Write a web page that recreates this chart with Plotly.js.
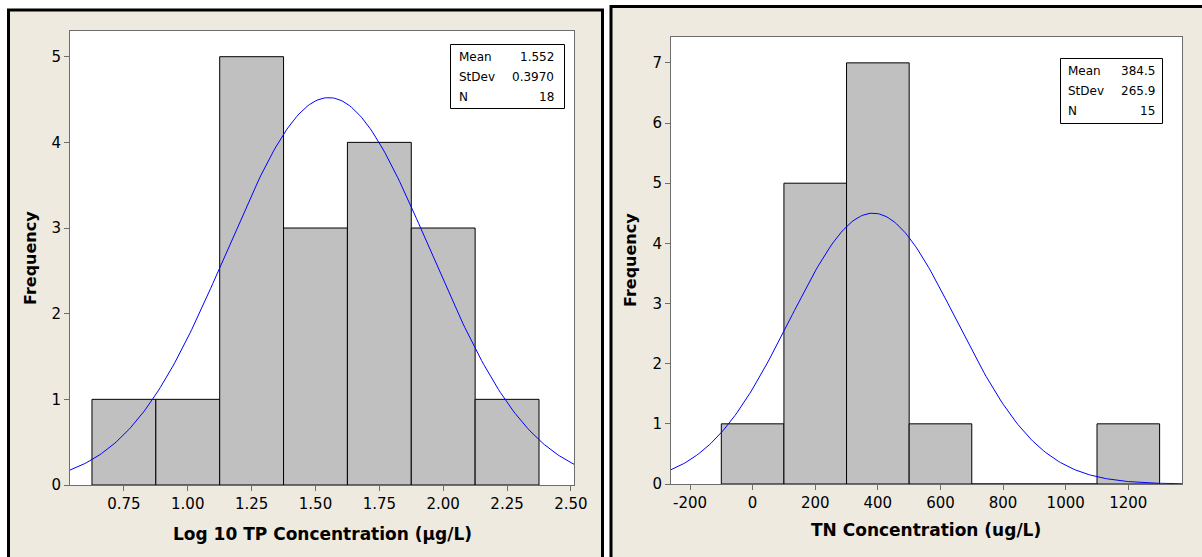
<!DOCTYPE html>
<html><head><meta charset="utf-8">
<script src="https://cdn.plot.ly/plotly-3.0.1.min.js"></script>
<style>html,body{margin:0;padding:0;background:#fff}#c{width:1202px;height:557px}</style>
</head><body><div id="c"></div>
<script>
// ---- Data: Log10 TP histogram ----
const tpBinCenters = [0.75, 1.00, 1.25, 1.50, 1.75, 2.00, 2.25];
const tpCounts = [1, 1, 5, 3, 4, 3, 1];
const tpBinWidth = 0.25;
const tpMean = 1.552, tpStDev = 0.3970, tpN = 18;
const tpTickVals = [0.75, 1.00, 1.25, 1.50, 1.75, 2.00, 2.25, 2.50];
const tpTickText = ["0.75", "1.00", "1.25", "1.50", "1.75", "2.00", "2.25", "2.50"];
const tpYTicks = [0, 1, 2, 3, 4, 5];
const tpStatLabels = ["Mean", "StDev", "N"];
const tpStatValues = ["1.552", "0.3970", "18"];

// ---- Data: TN histogram ----
const tnBinCenters = [0, 200, 400, 600, 800, 1000, 1200];
const tnCounts = [1, 5, 7, 1, 0, 0, 1];
const tnBinWidth = 200;
const tnMean = 384.5, tnStDev = 265.9, tnN = 15;
const tnTickVals = [-200, 0, 200, 400, 600, 800, 1000, 1200];
const tnTickText = ["-200", "0", "200", "400", "600", "800", "1000", "1200"];
const tnYTicks = [0, 1, 2, 3, 4, 5, 6, 7];
const tnStatLabels = ["Mean", "StDev", "N"];
const tnStatValues = ["384.5", "265.9", "15"];

const W = 1202, H = 557;
const px = x => x / W;
const py = y => 1 - y / H;

// fitted normal curve scaled to the histogram (N * binwidth * pdf)
function normalCurve(mean, sd, n, bw, lo, hi) {
  const xs = [], ys = [];
  const steps = 240;
  for (let i = 0; i <= steps; i++) {
    const x = lo + (hi - lo) * i / steps;
    xs.push(x);
    ys.push(n * bw * Math.exp(-0.5 * Math.pow((x - mean) / sd, 2)) / (sd * Math.sqrt(2 * Math.PI)));
  }
  return {xs, ys};
}

const tpRange = [0.539, 2.512];
const tnRange = [-260.7, 1371.5];
const tpCurve = normalCurve(tpMean, tpStDev, tpN, tpBinWidth, tpRange[0], tpRange[1]);
const tnCurve = normalCurve(tnMean, tnStDev, tnN, tnBinWidth, tnRange[0], tnRange[1]);

const barStyle = {color: '#C0C0C0', line: {color: '#000', width: 1}};
const data = [
  {type: 'bar', x: tpBinCenters, y: tpCounts, width: tpBinWidth, marker: barStyle, xaxis: 'x', yaxis: 'y', hoverinfo: 'x+y'},
  {type: 'scatter', mode: 'lines', x: tpCurve.xs, y: tpCurve.ys, line: {color: '#0000FF', width: 1}, xaxis: 'x', yaxis: 'y'},
  {type: 'bar', x: tnBinCenters, y: tnCounts, width: tnBinWidth, marker: barStyle, xaxis: 'x2', yaxis: 'y2'},
  {type: 'scatter', mode: 'lines', x: tnCurve.xs, y: tnCurve.ys, line: {color: '#0000FF', width: 1}, xaxis: 'x2', yaxis: 'y2'}
];

const tickFont = {family: 'DejaVu Sans', size: 15, color: '#000'};
const axBase = {
  showgrid: false, zeroline: false, showline: true, mirror: true,
  linecolor: '#6e6e6e', linewidth: 1, ticks: 'outside', ticklen: 5,
  tickcolor: '#6e6e6e', tickwidth: 1, tickfont: tickFont, fixedrange: true
};

const beige = '#EEEAE0';
const shapes = [
  {type: 'rect', xref: 'paper', yref: 'paper', x0: px(8.5), x1: px(602.5), y0: py(10), y1: py(575),
   fillcolor: beige, line: {color: '#000', width: 3}, layer: 'below'},
  {type: 'rect', xref: 'paper', yref: 'paper', x0: px(611), x1: px(1215), y0: py(6.5), y1: py(575),
   fillcolor: beige, line: {color: '#000', width: 3}, layer: 'below'},
  {type: 'rect', xref: 'x domain', yref: 'y domain', x0: 0, x1: 1, y0: 0, y1: 1,
   fillcolor: '#fff', line: {width: 0}, layer: 'below'},
  {type: 'rect', xref: 'x2 domain', yref: 'y2 domain', x0: 0, x1: 1, y0: 0, y1: 1,
   fillcolor: '#fff', line: {width: 0}, layer: 'below'},
  {type: 'rect', xref: 'paper', yref: 'paper', x0: px(450.5), x1: px(564.5), y0: py(44.5), y1: py(108.5),
   fillcolor: '#fff', line: {color: '#000', width: 1}, layer: 'above'},
  {type: 'rect', xref: 'paper', yref: 'paper', x0: px(1060.5), x1: px(1162.5), y0: py(58.5), y1: py(123.5),
   fillcolor: '#fff', line: {color: '#000', width: 1}, layer: 'above'}
];

const statFont = {family: 'DejaVu Sans', size: 12, color: '#000'};
const annotations = [];
function addStats(labels, values, xl, xr, yTop) {
  labels.forEach((lab, i) => {
    const y = yTop + 13 + i * 20;
    annotations.push({xref: 'paper', yref: 'paper', x: px(xl), y: py(y), text: lab, showarrow: false,
      xanchor: 'left', yanchor: 'middle', font: statFont});
    annotations.push({xref: 'paper', yref: 'paper', x: px(xr), y: py(y), text: values[i], showarrow: false,
      xanchor: 'right', yanchor: 'middle', font: statFont});
  });
}
addStats(tpStatLabels, tpStatValues, 457, 556, 44);
addStats(tnStatLabels, tnStatValues, 1066, 1157, 58);

const titleFont = {family: 'DejaVu Sans', size: 17, color: '#000'};
const freqFont = {family: 'DejaVu Sans', size: 16, color: '#000'};
annotations.push({xref: 'paper', yref: 'paper', x: px(322), y: py(534), text: '<b>Log 10 TP Concentration (μg/L)</b>',
  showarrow: false, xanchor: 'center', yanchor: 'middle', font: titleFont});
annotations.push({xref: 'paper', yref: 'paper', x: px(926), y: py(530), text: '<b>TN Concentration (ug/L)</b>',
  showarrow: false, xanchor: 'center', yanchor: 'middle', font: titleFont});
annotations.push({xref: 'paper', yref: 'paper', x: px(30), y: py(258), text: '<b>Frequency</b>', textangle: -90,
  showarrow: false, xanchor: 'center', yanchor: 'middle', font: freqFont});
annotations.push({xref: 'paper', yref: 'paper', x: px(630), y: py(260), text: '<b>Frequency</b>', textangle: -90,
  showarrow: false, xanchor: 'center', yanchor: 'middle', font: freqFont});

const layout = {
  width: W, height: H,
  margin: {l: 0, r: 0, t: 0, b: 0},
  paper_bgcolor: '#fff', plot_bgcolor: '#fff',
  showlegend: false, bargap: 0,
  xaxis: Object.assign({}, axBase, {domain: [px(70), px(574)], range: tpRange, tickvals: tpTickVals, ticktext: tpTickText, anchor: 'y'}),
  yaxis: Object.assign({}, axBase, {domain: [py(485), py(31)], range: [0, 5.30], tickvals: tpYTicks, anchor: 'x'}),
  xaxis2: Object.assign({}, axBase, {domain: [px(671), px(1182)], range: tnRange, tickvals: tnTickVals, ticktext: tnTickText, anchor: 'y2'}),
  yaxis2: Object.assign({}, axBase, {domain: [py(484), py(37)], range: [0, 7.43], tickvals: tnYTicks, anchor: 'x2'}),
  shapes: shapes,
  annotations: annotations
};

Plotly.newPlot('c', data, layout, {displayModeBar: false, staticPlot: true});
</script>
</body></html>
